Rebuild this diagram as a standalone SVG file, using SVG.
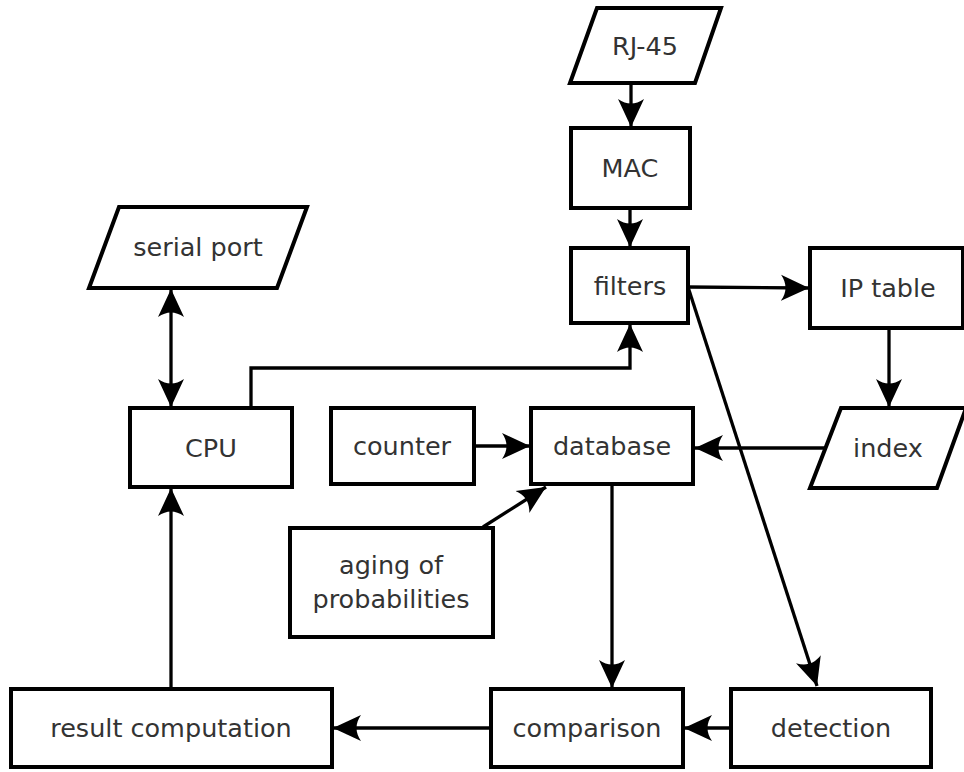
<svg xmlns="http://www.w3.org/2000/svg" width="964" height="772" viewBox="0 0 964 772">
<style>
.box{fill:#fff;stroke:#000;stroke-width:4}
.lbl{font-family:"DejaVu Sans",sans-serif;font-size:25.5px;fill:#333;text-anchor:middle}
.con{fill:none;stroke:#000;stroke-width:3.3}
.arr{marker-end:url(#ah)}
</style>
<defs>
<marker id="ah" markerUnits="userSpaceOnUse" viewBox="0 -14 30 28" markerWidth="30" markerHeight="28" refX="28" refY="0" orient="auto-start-reverse">
<path d="M0,-13 L28,0 L0,13 C6,4 6,-4 0,-13 Z" fill="#000"/>
</marker>
</defs>
<rect width="964" height="772" fill="#fff"/>
<g id="connectors">
<path class="con arr" d="M631,84 V127"/>
<path class="con arr" d="M630,208 V247"/>
<path class="con arr" d="M688,287 L809,288"/>
<path class="con arr" d="M688,287 L817,686"/>
<path class="con arr" d="M889,328 V407"/>
<path class="con arr" d="M825,448 H695"/>
<path class="con arr" d="M474,446 H530"/>
<path class="con arr" d="M483,527 L546,487"/>
<path class="con arr" d="M612,484 V688"/>
<path class="con arr" d="M731,728 H684"/>
<path class="con arr" d="M491,728 H333"/>
<path class="con arr" d="M171,689 V488"/>
<path class="con arr" d="M171,407 V289" style="marker-start:url(#ah)"/>
<path class="con arr" d="M251,408 V368 H630 V324"/>
</g>
<g id="rj45"><polygon class="box" points="597,8 721,8 695,83 570,83"/><text class="lbl" x="645" y="55">RJ-45</text></g>
<g id="mac"><rect class="box" x="571" y="128" width="119" height="80"/><text class="lbl" x="630" y="177">MAC</text></g>
<g id="filters"><rect class="box" x="571" y="248" width="117" height="75"/><text class="lbl" x="630" y="295">filters</text></g>
<g id="iptable"><rect class="box" x="810" y="248" width="153" height="80"/><text class="lbl" x="888" y="297">IP table</text></g>
<g id="serialport"><polygon class="box" points="119,207 307,207 277,288 89,288"/><text class="lbl" x="198" y="256">serial port</text></g>
<g id="cpu"><rect class="box" x="130" y="408" width="162" height="79"/><text class="lbl" x="211" y="457">CPU</text></g>
<g id="counter"><rect class="box" x="331" y="408" width="143" height="76"/><text class="lbl" x="402" y="455">counter</text></g>
<g id="database"><rect class="box" x="531" y="408" width="162" height="76"/><text class="lbl" x="612" y="455">database</text></g>
<g id="index"><polygon class="box" points="841,408 966,408 937,488 810,488"/><text class="lbl" x="888" y="457">index</text></g>
<g id="aging"><rect class="box" x="290" y="528" width="203" height="109"/><text class="lbl" x="391" y="574">aging of</text><text class="lbl" x="391" y="608">probabilities</text></g>
<g id="result"><rect class="box" x="11" y="689" width="321" height="78"/><text class="lbl" x="171" y="737">result computation</text></g>
<g id="comparison"><rect class="box" x="491" y="689" width="192" height="78"/><text class="lbl" x="587" y="737">comparison</text></g>
<g id="detection"><rect class="box" x="731" y="689" width="200" height="78"/><text class="lbl" x="831" y="737">detection</text></g>
</svg>
